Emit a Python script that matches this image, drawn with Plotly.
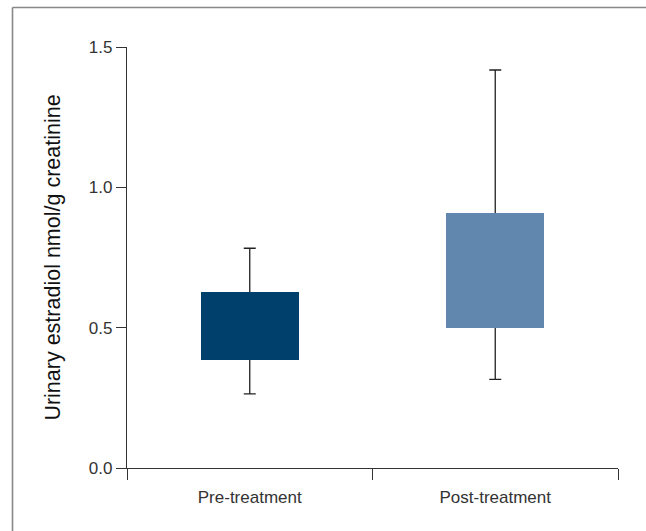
import plotly.graph_objects as go

categories = ["Pre-treatment", "Post-treatment"]
q1 = [0.386, 0.500]
q3 = [0.627, 0.909]
lower_whisker = [0.264, 0.316]
upper_whisker = [0.783, 1.418]
box_colors = ["#00406C", "#6287AF"]
y_tick_vals = [0.0, 0.5, 1.0, 1.5]
y_tick_text = ["0.0", "0.5", "1.0", "1.5"]
y_title = "Urinary estradiol nmol/g creatinine"

FONT = "Liberation Sans, Arial, sans-serif"

mid = [(a + b) / 2 for a, b in zip(q1, q3)]

fig = go.Figure()

# whiskers (drawn below the boxes)
fig.add_trace(go.Scatter(
    x=categories, y=mid, mode="markers",
    marker=dict(size=1, opacity=0),
    error_y=dict(type="data", symmetric=False,
                 array=[u - m for u, m in zip(upper_whisker, mid)],
                 arrayminus=[m - l for m, l in zip(mid, lower_whisker)],
                 color="#222222", thickness=1.3, width=6),
    showlegend=False, hoverinfo="skip",
    xaxis="x", yaxis="y",
))

# boxes on an overlaying axis so they sit above the whiskers
fig.add_trace(go.Bar(
    x=categories, y=[b - a for a, b in zip(q1, q3)], base=q1,
    marker=dict(color=box_colors, line=dict(width=0)),
    width=0.4, showlegend=False,
    xaxis="x", yaxis="y2",
))

px_x = lambda p: (p - 127) / 491
px_y = lambda p: (467.7 - p) / 420.7

fig.update_layout(
    width=646, height=531,
    margin=dict(l=127, r=28, t=47, b=63),
    paper_bgcolor="white", plot_bgcolor="white",
    font=dict(family=FONT, size=17, color="#333333"),
    xaxis=dict(
        type="category", range=[-0.5, 1.5],
        showline=True, linecolor="#333333", linewidth=1.3,
        ticks="outside", tickson="boundaries", ticklen=11, tickcolor="#333333", tickwidth=1.3,
        showgrid=False, zeroline=False, ticklabelstandoff=13,
        tickfont=dict(family=FONT, size=17, color="#333333"),
    ),
    yaxis=dict(
        range=[0, 1.5], tickvals=y_tick_vals, ticktext=y_tick_text,
        showline=True, linecolor="#333333", linewidth=1.3,
        ticks="outside", ticklen=10, tickcolor="#333333", tickwidth=1.3,
        showgrid=False, zeroline=False,
        tickfont=dict(family=FONT, size=17, color="#333333"),
        title=dict(text=y_title, standoff=22,
                   font=dict(family=FONT, size=21.5, color="#111111")),
    ),
    yaxis2=dict(
        range=[0, 1.5], overlaying="y", visible=False, showgrid=False, zeroline=False,
    ),
    bargap=0,
    shapes=[
        dict(type="line", xref="paper", yref="paper",
             x0=px_x(12.5), x1=px_x(646), y0=px_y(7.5), y1=px_y(7.5),
             line=dict(color="#888888", width=1.6), layer="below"),
        dict(type="line", xref="paper", yref="paper",
             x0=px_x(12.5), x1=px_x(12.5), y0=px_y(7.5), y1=px_y(531),
             line=dict(color="#888888", width=1.6), layer="below"),
    ],
)

fig.write_html(
    "out.html", config={"displayModeBar": False},
    post_script=("document.body.style.margin='0';"
                 "document.body.style.overflow='hidden';"
                 "document.documentElement.style.overflow='hidden';"),
)
